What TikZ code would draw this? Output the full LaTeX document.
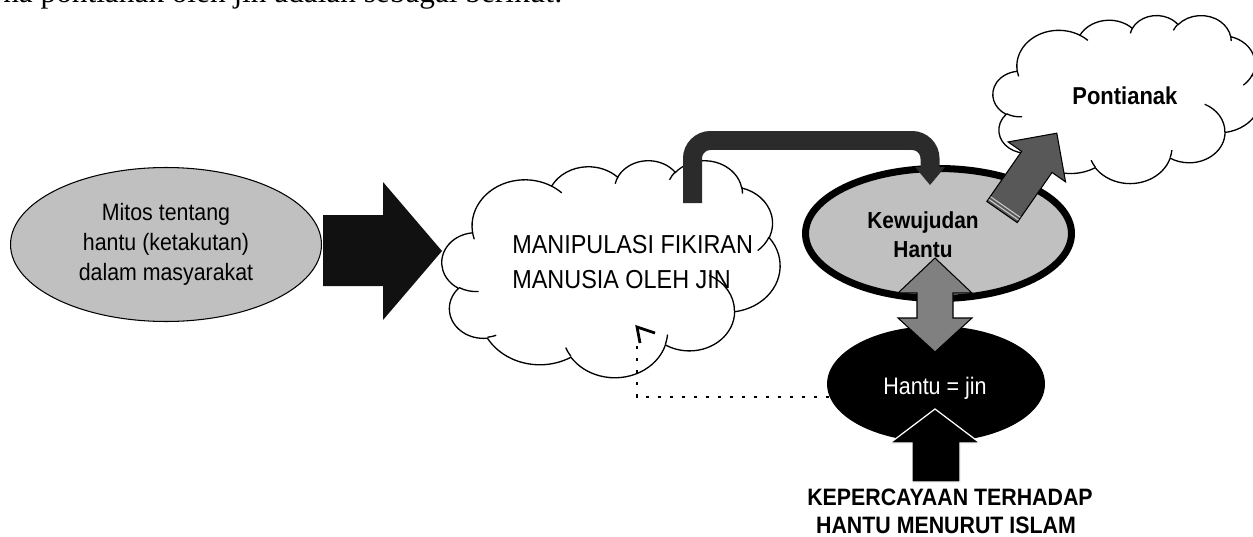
\documentclass[tikz,border=0pt]{standalone}
\usepackage{fontspec}
\setmainfont{Liberation Serif}
\newfontfamily\arialf[FakeStretch=0.9]{Liberation Sans}
\usetikzlibrary{shapes.geometric}
\definecolor{lgrey}{HTML}{C0C0C0}
\definecolor{ugrey}{HTML}{2B2B2B}
\definecolor{dgrey}{HTML}{585858}
\definecolor{mgrey}{HTML}{808080}
\definecolor{nblack}{HTML}{111111}
\newcommand\oaset[4]{%
  \pgfmathsetmacro\oaA{atan2((#1)*sin(#3),(#2)*cos(#3))}%
  \pgfmathsetmacro\oaE{(#3)+(#4)}%
  \pgfmathsetmacro\oaB{atan2((#1)*sin(\oaE),(#2)*cos(\oaE))}%
  \pgfmathsetmacro\oaB{(#4)>0 ? (\oaB<\oaA ? \oaB+360 : \oaB) : (\oaB>\oaA ? \oaB-360 : \oaB)}%
  \global\let\oaA\oaA \global\let\oaB\oaB}
\newcommand\oarc[4]{\pgfextra{\oaset{#1}{#2}{#3}{#4}} arc[start angle=\oaA, end angle=\oaB, x radius=#1, y radius=#2]}
\newcommand\cloudpaths[6]{%
  \begin{scope}[shift={(#1,#2)}, x=#3*0.02cm/432, y=-#4*0.02cm/432]
    \path[#5] (39.00,143.70)
      \oarc{67.53}{91.90}{-190.4875}{123.7805}
      \oarc{53.33}{72.67}{-144.1024}{89.9452}
      \oarc{43.65}{59.45}{-145.8079}{99.7230}
      \oarc{48.57}{65.95}{-130.9861}{117.2417}
      \oarc{53.33}{72.73}{-78.7089}{109.0269}
      \oarc{67.75}{92.20}{-46.2673}{130.2690}
      \oarc{57.85}{78.67}{0.6250}{114.0333}
      \oarc{67.52}{92.15}{22.4516}{115.1726}
      \oarc{77.20}{105.43}{66.2426}{75.7110}
      \oarc{43.60}{59.18}{-274.9421}{146.7356}
      \oarc{43.45}{59.45}{-246.8285}{152.5189} -- cycle;
    \path[#6] (46.93,261.77) \oarc{43.45}{59.45}{86.7420}{26.4295}
      (69.28,348.99) \oarc{43.60}{59.18}{73.6105}{11.4475}
      (164.78,390.90) \oarc{67.52}{92.15}{137.6241}{14.0811}
      (288.27,347.51) \oarc{67.52}{92.15}{6.4533}{15.9984}
      (341.29,229.54) \oarc{57.85}{78.67}{-70.2924}{70.9174}
      (417.98,153.54) \oarc{53.33}{72.73}{30.3180}{27.7515}
      (383.24,54.26) \oarc{48.57}{65.95}{-13.7443}{14.8589}
      (290.78,39.52) \oarc{48.57}{65.95}{-149.1815}{18.1954}
      (221.41,47.20) \oarc{43.65}{59.45}{-163.4943}{17.6864}
      (140.00,51.92) \oarc{67.53}{91.90}{-66.7070}{12.3194}
      (41.27,157.89) \oarc{67.53}{91.90}{157.6544}{11.8582};
  \end{scope}}
\begin{document}
\begin{tikzpicture}[x=0.02cm, y=-0.02cm,
  reg/.style={font=\arialf\fontsize{#1}{#1}\selectfont, inner sep=0pt},
  bld/.style={font=\arialf\bfseries\fontsize{#1}{#1}\selectfont, inner sep=0pt},
  cloudline/.style={draw=black, line width=0.75pt},
  outl/.style={draw=black, line width=0.6pt}]
\useasboundingbox (0,0) rectangle (1253,537);
\clip (0,0) rectangle (1253,537);
\fill[white] (0,0) rectangle (1253,537);

% cropped line of text at top (the reference shows only its lower part)
\node[anchor=base west, inner sep=0pt, font=\fontsize{17.8pt}{20pt}\selectfont] (intro) at (3,2.5)
  {na pontianak oleh jin adalah sebagai berikut:};

% left ellipse
\node[ellipse, outl, fill=lgrey, minimum width=6.22cm, minimum height=3.08cm, inner sep=0pt,
  align=center, font=\arialf\fontsize{13.5pt}{17pt}\selectfont] (mitos) at (166,244.5)
  {Mitos tentang\\hantu (ketakutan)\\dalam masyarakat};

% big black block arrow
\fill[nblack] (323,215) -- (383,215) -- (383,182) -- (442,251) -- (383,320) -- (383,286) -- (323,286) -- cycle;

% clouds
\cloudpaths{442}{160}{338}{217}{cloudline, fill=white}{cloudline}
\cloudpaths{993}{15}{268}{168}{cloudline, fill=white}{cloudline}

% Kewujudan ellipse
\node[ellipse, draw=black, line width=4pt, fill=lgrey, minimum width=5.32cm, minimum height=2.6cm,
  inner sep=0pt] (kew) at (938.5,233.5) {};
\node[bld=13.2pt, anchor=base] (kew1) at (923,228) {Kewujudan};
\node[bld=13.2pt, anchor=base] (kew2) at (923,257) {Hantu};

% U-turn arrow (drawn over the cloud and the ellipse border)
\coordinate (ustart) at (692.5,203);
\coordinate (uend) at (930,168);
\draw[ugrey, line width=0.38cm, rounded corners=0.36cm] (ustart) |- (930,140.5) -- (uend);
\fill[ugrey] (915,167) -- (945,167) -- (930,185) -- cycle;

% black ellipse
\node[ellipse, fill=black, minimum width=4.36cm, minimum height=2.32cm, inner sep=0pt] (jin) at (936,384) {};
\node[reg=13.6pt, anchor=base, text=white] (jintxt) at (935,394) {Hantu = jin};

% grey double arrow
\filldraw[fill=mgrey, outl] (935,258) -- (972,293) -- (953,293) -- (953,318) -- (972,318) -- (935,352)
  -- (898,318) -- (917,318) -- (917,293) -- (898,293) -- cycle;

% diagonal arrow to Pontianak
\begin{scope}[shift={(1002,212)}, rotate=55.2]
  \filldraw[fill=dgrey, outl] (0,-18.5) -- (61,-18.5) -- (61,-35) -- (96,0) -- (61,35) -- (61,18.5) -- (0,18.5) -- cycle;
  \draw[white!80!black, line width=0.6pt] (2.8,-18) -- (2.8,18) (6,-18) -- (6,18);
\end{scope}

% black up arrow
\filldraw[fill=black, draw=white, line width=0.7pt] (935,409) -- (980,443) -- (960,443) -- (960,482)
  -- (912,482) -- (912,443) -- (890,443) -- cycle;

% dotted connector
\coordinate (dstart) at (829,397);
\coordinate (dend) at (637,342);
\draw[line width=0.056cm, dash pattern=on 0.056cm off 0.184cm] (dstart) -| (dend);
\draw[line width=0.055cm] (655,333) -- (637,327) -- (640,343);

% texts
\node[reg=14.8pt, anchor=base west] (man1) at (512,253) {MANIPULASI FIKIRAN};
\node[reg=14.8pt, anchor=base west] (man2) at (512,288) {MANUSIA OLEH JIN};
\node[bld=13.9pt, anchor=base west] (pont) at (1072,105) {Pontianak};
\node[bld=13.5pt, anchor=base] (kep1) at (950,505) {KEPERCAYAAN TERHADAP};
\node[bld=13.5pt, anchor=base] (kep2) at (946,533) {HANTU MENURUT ISLAM};
\end{tikzpicture}
\end{document}
